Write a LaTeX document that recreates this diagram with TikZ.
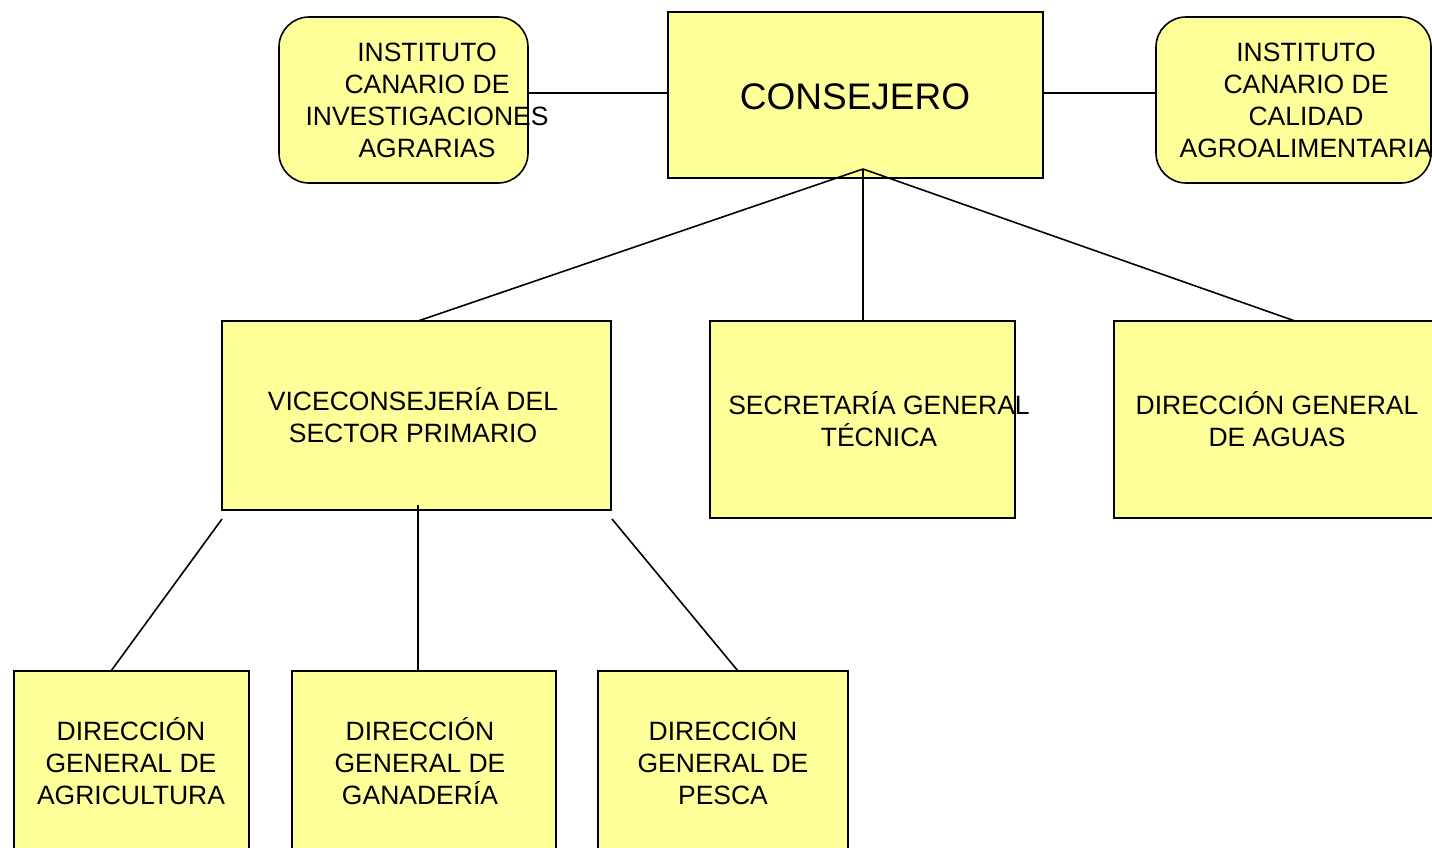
\documentclass[tikz,border=0pt]{standalone}
\usepackage{fontspec}
\setmainfont{Liberation Sans}
\usetikzlibrary{calc}
\definecolor{boxyellow}{HTML}{FFFF99}
\tikzset{
  box/.style={draw=black, fill=boxyellow, line width=1.6pt, inner sep=0pt, outer sep=0pt},
  rbox/.style={box, rounded corners=30pt},
  lbl/.style={align=center, font=\fontsize{26.5}{32}\selectfont, inner sep=0pt},
  conn/.style={line width=1.6pt}
}
\begin{document}
\begin{tikzpicture}[x=1pt,y=-1pt]
\useasboundingbox (0,0) rectangle (1432,847);
\clip (0,0) rectangle (1432,847);
% boxes
\node[rbox, minimum width=249pt, minimum height=166pt] (ICIA) at (403.5,100) {};
\node[box, minimum width=375pt, minimum height=166pt] (CON) at (855.5,95) {};
\node[rbox, minimum width=275pt, minimum height=166pt] (ICCA) at (1293.5,100) {};
\node[box, minimum width=389pt, minimum height=189pt] (VSP) at (416.5,415.5) {};
\node[box, minimum width=305pt, minimum height=197pt] (SGT) at (862.5,419.5) {};
\node[box, minimum width=362pt, minimum height=197pt] (DGAG) at (1295,419.5) {};
\node[box, minimum width=235pt, minimum height=184pt] (DAGR) at (131.5,763) {};
\node[box, minimum width=264pt, minimum height=184pt] (DGAN) at (424,763) {};
\node[box, minimum width=250pt, minimum height=184pt] (DPES) at (723,763) {};
% texts
\node[lbl] (tICIA) at (427,100) {INSTITUTO\\CANARIO DE\\INVESTIGACIONES\\AGRARIAS};
\node[lbl, font=\fontsize{37}{44}\selectfont] (tCON) at (855,97) {CONSEJERO};
\node[lbl] (tICCA) at (1306,100) {INSTITUTO\\CANARIO DE\\CALIDAD\\AGROALIMENTARIA};
\node[lbl] (tVSP) at (413,415) {VICECONSEJERÍA DEL\\SECTOR PRIMARIO};
\node[lbl] (tSGT) at (879,419) {SECRETARÍA GENERAL\\TÉCNICA};
\node[lbl] (tDGAG) at (1277,419) {DIRECCIÓN GENERAL\\DE AGUAS};
\node[lbl] (tDAGR) at (131,761) {DIRECCIÓN\\GENERAL DE\\AGRICULTURA};
\node[lbl] (tDGAN) at (420,761) {DIRECCIÓN\\GENERAL DE\\GANADERÍA};
\node[lbl] (tDPES) at (723,761) {DIRECCIÓN\\GENERAL DE\\PESCA};
% connector end points
\coordinate (hub) at (863,169);
\coordinate (vspB) at (418,505);
\coordinate (vspL) at (222,519);
\coordinate (vspR) at (612,519);
\coordinate (agrT) at (111,671);
\coordinate (ganT) at (418,671);
\coordinate (pesT) at (738,671);
% connectors
\draw[conn] (ICIA.east |- 0,93) -- (CON.west |- 0,93);
\draw[conn] (CON.east |- 0,93) -- (ICCA.west |- 0,93);
\draw[conn] (hub) -- (VSP.north -| 418,0);
\draw[conn] (hub) -- (SGT.north -| hub);
\draw[conn] (hub) -- (DGAG.north);
\draw[conn] (vspL) -- (agrT);
\draw[conn] (vspB) -- (ganT);
\draw[conn] (vspR) -- (pesT);
\end{tikzpicture}
\end{document}
